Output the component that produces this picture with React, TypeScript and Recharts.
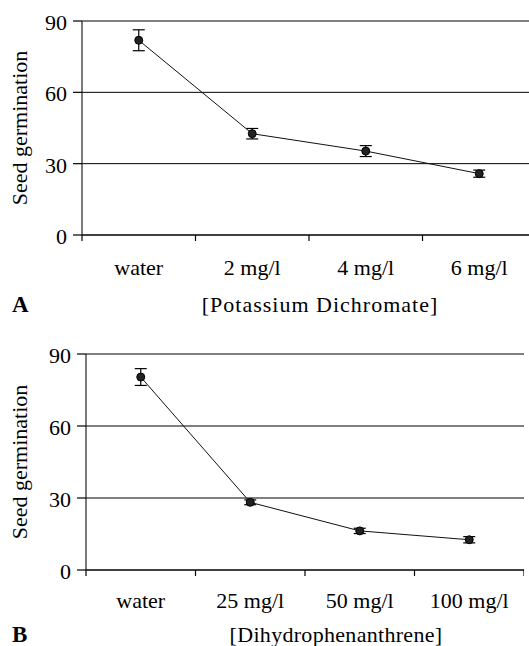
import React from 'react';
import { LineChart, Line, XAxis, YAxis, CartesianGrid, ErrorBar } from 'recharts';

const categoriesA = ['water', '2 mg/l', '4 mg/l', '6 mg/l'];
const valuesA = [81.9, 42.6, 35.3, 25.8];
const errorsA = [4.4, 2.2, 2.3, 1.5];

const categoriesB = ['water', '25 mg/l', '50 mg/l', '100 mg/l'];
const valuesB = [80.4, 28.2, 16.3, 12.6];
const errorsB = [3.5, 1.0, 1.1, 1.3];

const yTicks = [0, 30, 60, 90];
const xTicks = [0, 1, 2, 3, 4];

const FONT = '"Liberation Serif", "Times New Roman", serif';

const dataA = categoriesA.map((c, i) => ({ x: i + 0.5, name: c, v: valuesA[i], e: errorsA[i] }));
const dataB = categoriesB.map((c, i) => ({ x: i + 0.5, name: c, v: valuesB[i], e: errorsB[i] }));

function makeXTick(cats: string[], halfBand: number, dy: number) {
  return (props: any) => {
    const { x, y, payload } = props;
    const idx = payload.value;
    if (idx >= cats.length) return <g />;
    return (
      <text x={x + halfBand} y={y + dy} textAnchor="middle" fontFamily={FONT} fontSize={22} fill="#000">
        {cats[idx]}
      </text>
    );
  };
}

const YTick = (props: any) => {
  const { x, y, payload } = props;
  return (
    <text x={x} y={y + 9} textAnchor="end" fontFamily={FONT} fontSize={22} fill="#000">
      {payload.value}
    </text>
  );
};

function yLabel(cy: number) {
  return () => (
    <text
      x={27}
      y={cy}
      transform={`rotate(-90, 27, ${cy})`}
      textAnchor="middle"
      fontFamily={FONT}
      fontSize={22}
      fill="#000"
    >
      Seed germination
    </text>
  );
}

function xTitle(letter: string, title: string, cx: number, by: number, ls: number) {
  return () => (
    <g>
      <text x={12} y={by} fontFamily={FONT} fontSize={23} fontWeight="bold" fill="#000">
        {letter}
      </text>
      <text x={cx} y={by} textAnchor="middle" fontFamily={FONT} fontSize={22} letterSpacing={ls} fill="#000">
        {title}
      </text>
    </g>
  );
}

function Panel(props: {
  data: any[];
  cats: string[];
  width: number;
  height: number;
  top: number;
  yAxisWidth: number;
  xAxisHeight: number;
  tickDy: number;
  letter: string;
  title: string;
  titleX: number;
  titleY: number;
  ls: number;
}) {
  const plotW = props.width - props.yAxisWidth;
  const half = plotW / 8;
  const plotH = props.height - props.top - props.xAxisHeight;
  return (
    <LineChart
      width={props.width}
      height={props.height}
      data={props.data}
      margin={{ top: props.top, right: 0, bottom: 0, left: 0 }}
    >
      <CartesianGrid horizontal vertical={false} stroke="#000" strokeWidth={1} />
      <XAxis
        dataKey="x"
        type="number"
        domain={[0, 4]}
        ticks={xTicks}
        interval={0}
        height={props.xAxisHeight}
        tickSize={6}
        tickMargin={0}
        axisLine={{ stroke: '#000', strokeWidth: 1.2 }}
        tickLine={{ stroke: '#000', strokeWidth: 1.2 }}
        tick={makeXTick(props.cats, half, props.tickDy)}
        label={xTitle(props.letter, props.title, props.titleX, props.titleY, props.ls)}
      />
      <YAxis
        type="number"
        domain={[0, 90]}
        ticks={yTicks}
        interval={0}
        width={props.yAxisWidth}
        tickSize={9}
        tickMargin={6}
        axisLine={{ stroke: '#222', strokeWidth: 1.2 }}
        tickLine={{ stroke: '#000', strokeWidth: 1.2 }}
        tick={YTick}
        label={yLabel(props.top + plotH / 2)}
      />
      <Line
        dataKey="v"
        stroke="#111"
        strokeWidth={1}
        dot={{ r: 4, fill: '#222', stroke: '#000', strokeWidth: 1 }}
        isAnimationActive={false}
      >
        <ErrorBar dataKey="e" width={6} stroke="#000" strokeWidth={1.2} direction="y" />
      </Line>
    </LineChart>
  );
}

export default function App() {
  return (
    <div
      style={{
        position: 'absolute',
        left: 0,
        top: 0,
        width: 529,
        height: 646,
        overflow: 'hidden',
        background: '#fff',
      }}
    >
      <div style={{ position: 'absolute', left: 0, top: 0 }}>
        <Panel
          data={dataA}
          cats={categoriesA}
          width={536}
          height={320}
          top={21}
          yAxisWidth={82}
          xAxisHeight={85}
          tickDy={34}
          letter="A"
          title="[Potassium Dichromate]"
          titleX={320}
          titleY={312}
          ls={1}
        />
      </div>
      <div style={{ position: 'absolute', left: 0, top: 320 }}>
        <Panel
          data={dataB}
          cats={categoriesB}
          width={524}
          height={326}
          top={34}
          yAxisWidth={86}
          xAxisHeight={76}
          tickDy={32}
          letter="B"
          title="[Dihydrophenanthrene]"
          titleX={336}
          titleY={322}
          ls={0.3}
        />
      </div>
    </div>
  );
}
